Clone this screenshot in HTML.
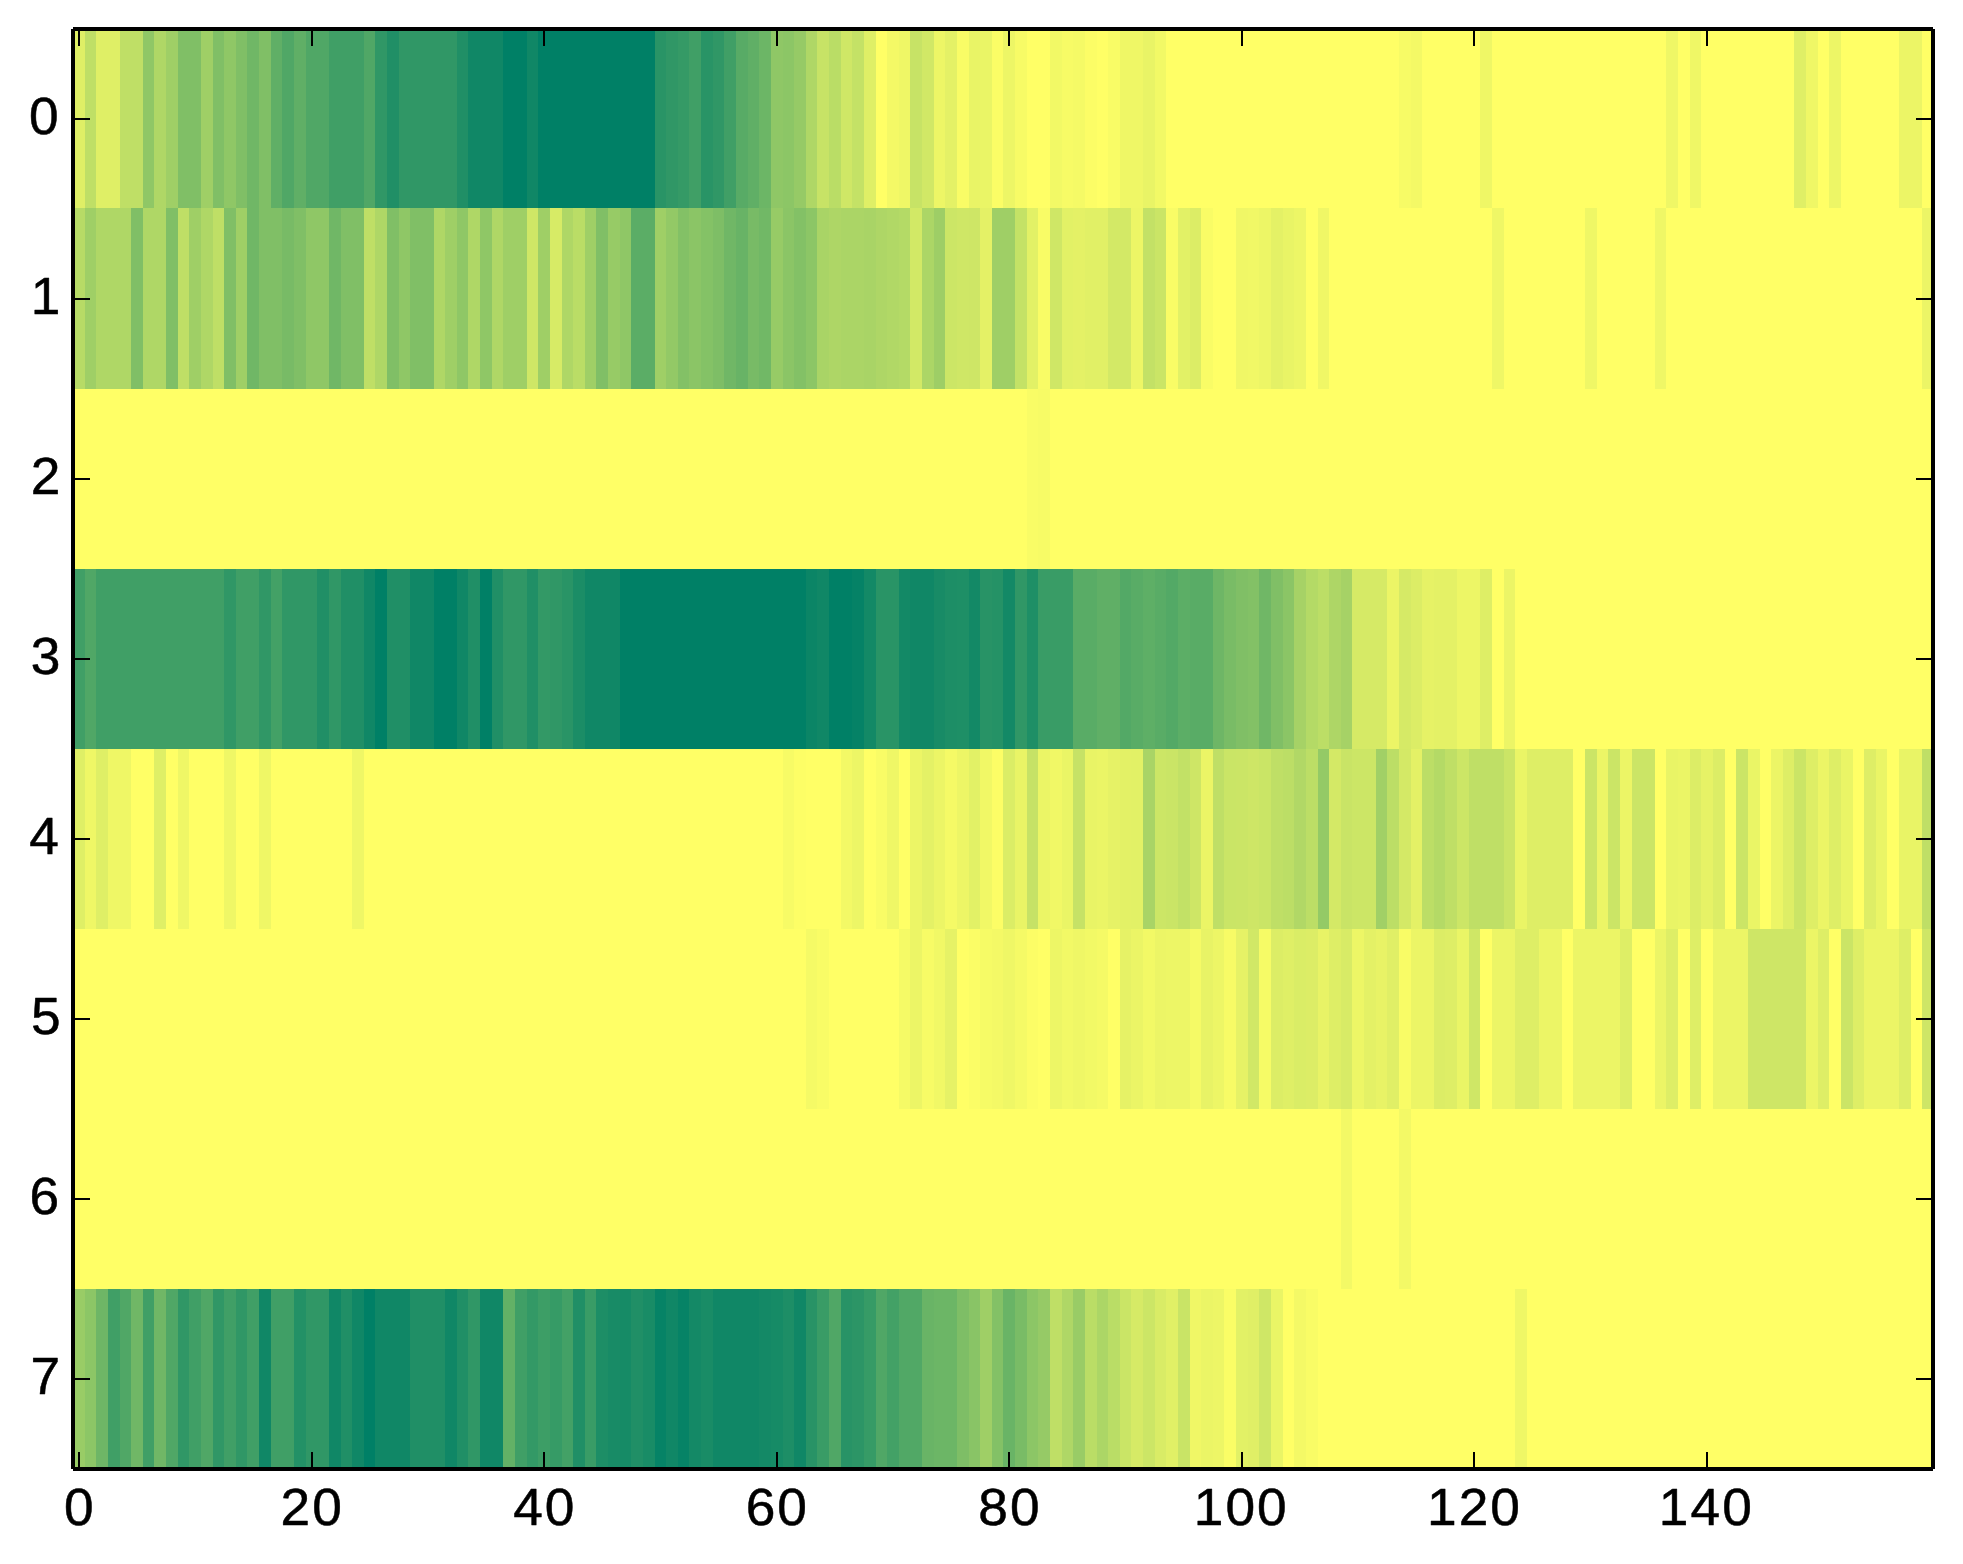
<!DOCTYPE html>
<html><head><meta charset="utf-8"><title>heatmap</title>
<style>
html,body{margin:0;padding:0;background:#fff;}
body{width:1963px;height:1564px;overflow:hidden;font-family:"Liberation Sans",sans-serif;}
svg{display:block;}
text{font-family:"Liberation Sans",sans-serif;fill:#000;stroke:#000;stroke-width:0.5px;stroke-linejoin:round;}
</style></head><body>
<svg width="1963" height="1564" viewBox="0 0 1963 1564">
<rect x="0" y="0" width="1963" height="1564" fill="#ffffff"/>
<g shape-rendering="crispEdges">
<rect x="73" y="29" width="1861" height="1440" fill="#ffff66"/>
<rect x="73" y="29" width="12" height="179" fill="#dfef66"/>
<rect x="85" y="29" width="11" height="179" fill="#bfdf66"/>
<rect x="96" y="29" width="24" height="179" fill="#dfef66"/>
<rect x="120" y="29" width="23" height="179" fill="#bfdf66"/>
<rect x="143" y="29" width="11" height="179" fill="#8fc766"/>
<rect x="154" y="29" width="12" height="179" fill="#afd766"/>
<rect x="166" y="29" width="12" height="179" fill="#9fcf66"/>
<rect x="178" y="29" width="23" height="179" fill="#80bf66"/>
<rect x="201" y="29" width="12" height="179" fill="#9fcf66"/>
<rect x="213" y="29" width="11" height="179" fill="#80bf66"/>
<rect x="224" y="29" width="12" height="179" fill="#8fc766"/>
<rect x="236" y="29" width="11" height="179" fill="#80bf66"/>
<rect x="247" y="29" width="12" height="179" fill="#70b766"/>
<rect x="259" y="29" width="12" height="179" fill="#80bf66"/>
<rect x="271" y="29" width="11" height="179" fill="#60af66"/>
<rect x="282" y="29" width="12" height="179" fill="#50a766"/>
<rect x="294" y="29" width="12" height="179" fill="#60af66"/>
<rect x="306" y="29" width="23" height="179" fill="#50a766"/>
<rect x="329" y="29" width="35" height="179" fill="#409f66"/>
<rect x="364" y="29" width="11" height="179" fill="#50a766"/>
<rect x="375" y="29" width="12" height="179" fill="#309766"/>
<rect x="387" y="29" width="12" height="179" fill="#208f66"/>
<rect x="399" y="29" width="58" height="179" fill="#309766"/>
<rect x="457" y="29" width="11" height="179" fill="#208f66"/>
<rect x="468" y="29" width="35" height="179" fill="#108766"/>
<rect x="503" y="29" width="24" height="179" fill="#008066"/>
<rect x="527" y="29" width="11" height="179" fill="#108766"/>
<rect x="538" y="29" width="117" height="179" fill="#008066"/>
<rect x="655" y="29" width="11" height="179" fill="#299466"/>
<rect x="666" y="29" width="12" height="179" fill="#309766"/>
<rect x="678" y="29" width="11" height="179" fill="#359a66"/>
<rect x="689" y="29" width="12" height="179" fill="#409f66"/>
<rect x="701" y="29" width="12" height="179" fill="#299466"/>
<rect x="713" y="29" width="11" height="179" fill="#309766"/>
<rect x="724" y="29" width="12" height="179" fill="#409f66"/>
<rect x="736" y="29" width="12" height="179" fill="#58ab66"/>
<rect x="748" y="29" width="11" height="179" fill="#60af66"/>
<rect x="759" y="29" width="12" height="179" fill="#6cb666"/>
<rect x="771" y="29" width="12" height="179" fill="#8fc766"/>
<rect x="783" y="29" width="11" height="179" fill="#8cc666"/>
<rect x="794" y="29" width="12" height="179" fill="#96ca66"/>
<rect x="806" y="29" width="11" height="179" fill="#afd766"/>
<rect x="817" y="29" width="12" height="179" fill="#c7e366"/>
<rect x="829" y="29" width="12" height="179" fill="#badd66"/>
<rect x="841" y="29" width="11" height="179" fill="#cfe766"/>
<rect x="852" y="29" width="12" height="179" fill="#c4e266"/>
<rect x="864" y="29" width="12" height="179" fill="#dfef66"/>
<rect x="887" y="29" width="12" height="179" fill="#f4f966"/>
<rect x="899" y="29" width="11" height="179" fill="#eff766"/>
<rect x="910" y="29" width="12" height="179" fill="#c7e366"/>
<rect x="922" y="29" width="12" height="179" fill="#d1e866"/>
<rect x="934" y="29" width="11" height="179" fill="#edf666"/>
<rect x="945" y="29" width="12" height="179" fill="#e4f166"/>
<rect x="957" y="29" width="12" height="179" fill="#f9fc66"/>
<rect x="969" y="29" width="11" height="179" fill="#e9f466"/>
<rect x="980" y="29" width="12" height="179" fill="#eaf566"/>
<rect x="992" y="29" width="11" height="179" fill="#fbfd66"/>
<rect x="1003" y="29" width="12" height="179" fill="#edf666"/>
<rect x="1015" y="29" width="12" height="179" fill="#f7fb66"/>
<rect x="1050" y="29" width="12" height="179" fill="#f2f966"/>
<rect x="1062" y="29" width="11" height="179" fill="#f7fb66"/>
<rect x="1073" y="29" width="12" height="179" fill="#f5fa66"/>
<rect x="1085" y="29" width="12" height="179" fill="#fcfd66"/>
<rect x="1108" y="29" width="12" height="179" fill="#f9fc66"/>
<rect x="1120" y="29" width="23" height="179" fill="#eff766"/>
<rect x="1143" y="29" width="12" height="179" fill="#e9f466"/>
<rect x="1155" y="29" width="11" height="179" fill="#f2f966"/>
<rect x="1399" y="29" width="12" height="179" fill="#f7fb66"/>
<rect x="1411" y="29" width="11" height="179" fill="#f4f966"/>
<rect x="1480" y="29" width="12" height="179" fill="#eff766"/>
<rect x="1666" y="29" width="12" height="179" fill="#eff766"/>
<rect x="1690" y="29" width="11" height="179" fill="#eff766"/>
<rect x="1794" y="29" width="12" height="179" fill="#dfef66"/>
<rect x="1806" y="29" width="12" height="179" fill="#eff766"/>
<rect x="1829" y="29" width="12" height="179" fill="#edf666"/>
<rect x="1899" y="29" width="23" height="179" fill="#ecf566"/>
<rect x="73" y="208" width="12" height="181" fill="#b7db66"/>
<rect x="85" y="208" width="11" height="181" fill="#9fcf66"/>
<rect x="96" y="208" width="35" height="181" fill="#afd766"/>
<rect x="131" y="208" width="12" height="181" fill="#80bf66"/>
<rect x="143" y="208" width="23" height="181" fill="#afd766"/>
<rect x="166" y="208" width="12" height="181" fill="#80bf66"/>
<rect x="178" y="208" width="11" height="181" fill="#bfdf66"/>
<rect x="189" y="208" width="12" height="181" fill="#9fcf66"/>
<rect x="201" y="208" width="12" height="181" fill="#afd766"/>
<rect x="213" y="208" width="11" height="181" fill="#bfdf66"/>
<rect x="224" y="208" width="12" height="181" fill="#80bf66"/>
<rect x="236" y="208" width="11" height="181" fill="#9fcf66"/>
<rect x="247" y="208" width="12" height="181" fill="#70b766"/>
<rect x="259" y="208" width="23" height="181" fill="#80bf66"/>
<rect x="282" y="208" width="12" height="181" fill="#78bb66"/>
<rect x="294" y="208" width="12" height="181" fill="#80bf66"/>
<rect x="306" y="208" width="23" height="181" fill="#8fc766"/>
<rect x="329" y="208" width="12" height="181" fill="#70b766"/>
<rect x="341" y="208" width="23" height="181" fill="#80bf66"/>
<rect x="364" y="208" width="11" height="181" fill="#bfdf66"/>
<rect x="375" y="208" width="12" height="181" fill="#afd766"/>
<rect x="387" y="208" width="12" height="181" fill="#80bf66"/>
<rect x="399" y="208" width="11" height="181" fill="#8fc766"/>
<rect x="410" y="208" width="24" height="181" fill="#80bf66"/>
<rect x="434" y="208" width="11" height="181" fill="#afd766"/>
<rect x="445" y="208" width="12" height="181" fill="#9fcf66"/>
<rect x="457" y="208" width="11" height="181" fill="#8fc766"/>
<rect x="468" y="208" width="12" height="181" fill="#afd766"/>
<rect x="480" y="208" width="12" height="181" fill="#8fc766"/>
<rect x="492" y="208" width="11" height="181" fill="#afd766"/>
<rect x="503" y="208" width="24" height="181" fill="#9fcf66"/>
<rect x="527" y="208" width="11" height="181" fill="#cfe766"/>
<rect x="538" y="208" width="12" height="181" fill="#9fcf66"/>
<rect x="550" y="208" width="12" height="181" fill="#d7eb66"/>
<rect x="562" y="208" width="11" height="181" fill="#afd766"/>
<rect x="573" y="208" width="12" height="181" fill="#badd66"/>
<rect x="585" y="208" width="11" height="181" fill="#9fcf66"/>
<rect x="596" y="208" width="12" height="181" fill="#80bf66"/>
<rect x="608" y="208" width="12" height="181" fill="#97cb66"/>
<rect x="620" y="208" width="11" height="181" fill="#8fc766"/>
<rect x="631" y="208" width="24" height="181" fill="#5bad66"/>
<rect x="655" y="208" width="11" height="181" fill="#9fcf66"/>
<rect x="666" y="208" width="12" height="181" fill="#93c966"/>
<rect x="678" y="208" width="11" height="181" fill="#83c166"/>
<rect x="689" y="208" width="12" height="181" fill="#8bc566"/>
<rect x="701" y="208" width="12" height="181" fill="#84c266"/>
<rect x="713" y="208" width="11" height="181" fill="#7ebe66"/>
<rect x="724" y="208" width="12" height="181" fill="#70b766"/>
<rect x="736" y="208" width="12" height="181" fill="#68b366"/>
<rect x="748" y="208" width="11" height="181" fill="#78bb66"/>
<rect x="759" y="208" width="12" height="181" fill="#71b866"/>
<rect x="771" y="208" width="12" height="181" fill="#97cb66"/>
<rect x="783" y="208" width="11" height="181" fill="#8bc566"/>
<rect x="794" y="208" width="12" height="181" fill="#83c166"/>
<rect x="806" y="208" width="11" height="181" fill="#8cc666"/>
<rect x="817" y="208" width="12" height="181" fill="#a9d466"/>
<rect x="829" y="208" width="12" height="181" fill="#aed666"/>
<rect x="841" y="208" width="23" height="181" fill="#abd566"/>
<rect x="864" y="208" width="12" height="181" fill="#a9d466"/>
<rect x="876" y="208" width="11" height="181" fill="#aed666"/>
<rect x="887" y="208" width="12" height="181" fill="#b1d866"/>
<rect x="899" y="208" width="11" height="181" fill="#b4da66"/>
<rect x="910" y="208" width="12" height="181" fill="#d2e966"/>
<rect x="922" y="208" width="12" height="181" fill="#acd666"/>
<rect x="934" y="208" width="11" height="181" fill="#9ece66"/>
<rect x="945" y="208" width="12" height="181" fill="#cce666"/>
<rect x="957" y="208" width="12" height="181" fill="#cfe766"/>
<rect x="969" y="208" width="11" height="181" fill="#cee666"/>
<rect x="980" y="208" width="12" height="181" fill="#e4f166"/>
<rect x="992" y="208" width="23" height="181" fill="#9fcf66"/>
<rect x="1015" y="208" width="12" height="181" fill="#c4e266"/>
<rect x="1027" y="208" width="11" height="181" fill="#e2f166"/>
<rect x="1038" y="208" width="12" height="181" fill="#f9fc66"/>
<rect x="1050" y="208" width="12" height="181" fill="#cfe766"/>
<rect x="1062" y="208" width="11" height="181" fill="#e2f166"/>
<rect x="1073" y="208" width="12" height="181" fill="#e4f166"/>
<rect x="1085" y="208" width="23" height="181" fill="#e1f066"/>
<rect x="1108" y="208" width="23" height="181" fill="#d3e966"/>
<rect x="1131" y="208" width="12" height="181" fill="#edf666"/>
<rect x="1143" y="208" width="12" height="181" fill="#c3e166"/>
<rect x="1155" y="208" width="11" height="181" fill="#cae566"/>
<rect x="1166" y="208" width="12" height="181" fill="#f9fc66"/>
<rect x="1178" y="208" width="12" height="181" fill="#e2f166"/>
<rect x="1190" y="208" width="11" height="181" fill="#dced66"/>
<rect x="1201" y="208" width="12" height="181" fill="#f9fc66"/>
<rect x="1236" y="208" width="12" height="181" fill="#f0f766"/>
<rect x="1248" y="208" width="11" height="181" fill="#f1f866"/>
<rect x="1259" y="208" width="12" height="181" fill="#edf666"/>
<rect x="1271" y="208" width="12" height="181" fill="#e4f166"/>
<rect x="1283" y="208" width="11" height="181" fill="#e9f466"/>
<rect x="1294" y="208" width="12" height="181" fill="#edf666"/>
<rect x="1318" y="208" width="11" height="181" fill="#f0f766"/>
<rect x="1492" y="208" width="12" height="181" fill="#eff766"/>
<rect x="1585" y="208" width="12" height="181" fill="#eff766"/>
<rect x="1655" y="208" width="11" height="181" fill="#eff766"/>
<rect x="1922" y="208" width="12" height="181" fill="#ecf566"/>
<rect x="1027" y="389" width="11" height="180" fill="#f9fc66"/>
<rect x="1038" y="389" width="12" height="180" fill="#f7fb66"/>
<rect x="73" y="569" width="12" height="180" fill="#409f66"/>
<rect x="85" y="569" width="11" height="180" fill="#50a766"/>
<rect x="96" y="569" width="128" height="180" fill="#409f66"/>
<rect x="224" y="569" width="12" height="180" fill="#309766"/>
<rect x="236" y="569" width="23" height="180" fill="#409f66"/>
<rect x="259" y="569" width="12" height="180" fill="#309766"/>
<rect x="271" y="569" width="11" height="180" fill="#43a166"/>
<rect x="282" y="569" width="35" height="180" fill="#309766"/>
<rect x="317" y="569" width="12" height="180" fill="#208f66"/>
<rect x="329" y="569" width="12" height="180" fill="#309766"/>
<rect x="341" y="569" width="23" height="180" fill="#208f66"/>
<rect x="364" y="569" width="11" height="180" fill="#108766"/>
<rect x="375" y="569" width="12" height="180" fill="#008066"/>
<rect x="387" y="569" width="23" height="180" fill="#208f66"/>
<rect x="410" y="569" width="24" height="180" fill="#108766"/>
<rect x="434" y="569" width="23" height="180" fill="#008066"/>
<rect x="457" y="569" width="11" height="180" fill="#108766"/>
<rect x="468" y="569" width="12" height="180" fill="#208f66"/>
<rect x="480" y="569" width="12" height="180" fill="#008066"/>
<rect x="492" y="569" width="11" height="180" fill="#208f66"/>
<rect x="503" y="569" width="24" height="180" fill="#309766"/>
<rect x="527" y="569" width="11" height="180" fill="#208f66"/>
<rect x="538" y="569" width="12" height="180" fill="#339966"/>
<rect x="550" y="569" width="12" height="180" fill="#309766"/>
<rect x="562" y="569" width="11" height="180" fill="#299466"/>
<rect x="573" y="569" width="12" height="180" fill="#1b8d66"/>
<rect x="585" y="569" width="35" height="180" fill="#108766"/>
<rect x="620" y="569" width="186" height="180" fill="#008066"/>
<rect x="806" y="569" width="11" height="180" fill="#0b8566"/>
<rect x="817" y="569" width="12" height="180" fill="#108766"/>
<rect x="829" y="569" width="23" height="180" fill="#008066"/>
<rect x="852" y="569" width="12" height="180" fill="#058266"/>
<rect x="864" y="569" width="12" height="180" fill="#138966"/>
<rect x="876" y="569" width="23" height="180" fill="#299466"/>
<rect x="899" y="569" width="11" height="180" fill="#138966"/>
<rect x="910" y="569" width="24" height="180" fill="#108766"/>
<rect x="934" y="569" width="11" height="180" fill="#188b66"/>
<rect x="945" y="569" width="12" height="180" fill="#1d8e66"/>
<rect x="957" y="569" width="12" height="180" fill="#1e8f66"/>
<rect x="969" y="569" width="11" height="180" fill="#138966"/>
<rect x="980" y="569" width="12" height="180" fill="#289366"/>
<rect x="992" y="569" width="11" height="180" fill="#259266"/>
<rect x="1003" y="569" width="12" height="180" fill="#138966"/>
<rect x="1015" y="569" width="12" height="180" fill="#309766"/>
<rect x="1027" y="569" width="11" height="180" fill="#1e8f66"/>
<rect x="1038" y="569" width="35" height="180" fill="#399c66"/>
<rect x="1073" y="569" width="24" height="180" fill="#59ac66"/>
<rect x="1097" y="569" width="23" height="180" fill="#60af66"/>
<rect x="1120" y="569" width="11" height="180" fill="#53a966"/>
<rect x="1131" y="569" width="12" height="180" fill="#59ac66"/>
<rect x="1143" y="569" width="12" height="180" fill="#5eaf66"/>
<rect x="1155" y="569" width="11" height="180" fill="#59ac66"/>
<rect x="1166" y="569" width="12" height="180" fill="#53a966"/>
<rect x="1178" y="569" width="12" height="180" fill="#5cae66"/>
<rect x="1190" y="569" width="23" height="180" fill="#59ac66"/>
<rect x="1213" y="569" width="11" height="180" fill="#6eb666"/>
<rect x="1224" y="569" width="12" height="180" fill="#79bc66"/>
<rect x="1236" y="569" width="12" height="180" fill="#80bf66"/>
<rect x="1248" y="569" width="11" height="180" fill="#83c166"/>
<rect x="1259" y="569" width="12" height="180" fill="#70b766"/>
<rect x="1271" y="569" width="12" height="180" fill="#80bf66"/>
<rect x="1283" y="569" width="11" height="180" fill="#8bc566"/>
<rect x="1294" y="569" width="12" height="180" fill="#a6d266"/>
<rect x="1306" y="569" width="12" height="180" fill="#b4da66"/>
<rect x="1318" y="569" width="11" height="180" fill="#bcde66"/>
<rect x="1329" y="569" width="12" height="180" fill="#aed666"/>
<rect x="1341" y="569" width="11" height="180" fill="#a6d266"/>
<rect x="1352" y="569" width="35" height="180" fill="#d6ea66"/>
<rect x="1387" y="569" width="12" height="180" fill="#ecf566"/>
<rect x="1399" y="569" width="12" height="180" fill="#d6ea66"/>
<rect x="1411" y="569" width="11" height="180" fill="#dced66"/>
<rect x="1422" y="569" width="12" height="180" fill="#e6f266"/>
<rect x="1434" y="569" width="23" height="180" fill="#e4f166"/>
<rect x="1457" y="569" width="23" height="180" fill="#edf666"/>
<rect x="1480" y="569" width="12" height="180" fill="#deee66"/>
<rect x="1504" y="569" width="11" height="180" fill="#ecf566"/>
<rect x="73" y="749" width="12" height="180" fill="#dfef66"/>
<rect x="85" y="749" width="11" height="180" fill="#eff766"/>
<rect x="96" y="749" width="12" height="180" fill="#dfef66"/>
<rect x="108" y="749" width="23" height="180" fill="#eff766"/>
<rect x="154" y="749" width="12" height="180" fill="#dfef66"/>
<rect x="178" y="749" width="11" height="180" fill="#eff766"/>
<rect x="224" y="749" width="12" height="180" fill="#eff766"/>
<rect x="259" y="749" width="12" height="180" fill="#eff766"/>
<rect x="352" y="749" width="12" height="180" fill="#eff766"/>
<rect x="783" y="749" width="11" height="180" fill="#f7fb66"/>
<rect x="794" y="749" width="12" height="180" fill="#fdfe66"/>
<rect x="841" y="749" width="11" height="180" fill="#f3f966"/>
<rect x="852" y="749" width="12" height="180" fill="#edf666"/>
<rect x="876" y="749" width="11" height="180" fill="#f9fc66"/>
<rect x="887" y="749" width="12" height="180" fill="#eff766"/>
<rect x="910" y="749" width="12" height="180" fill="#ecf566"/>
<rect x="922" y="749" width="12" height="180" fill="#e4f166"/>
<rect x="934" y="749" width="11" height="180" fill="#ecf566"/>
<rect x="945" y="749" width="12" height="180" fill="#f5fa66"/>
<rect x="957" y="749" width="12" height="180" fill="#edf666"/>
<rect x="969" y="749" width="11" height="180" fill="#e2f166"/>
<rect x="980" y="749" width="12" height="180" fill="#f1f866"/>
<rect x="992" y="749" width="11" height="180" fill="#fcfd66"/>
<rect x="1003" y="749" width="12" height="180" fill="#dbed66"/>
<rect x="1015" y="749" width="12" height="180" fill="#e9f466"/>
<rect x="1027" y="749" width="11" height="180" fill="#c6e266"/>
<rect x="1038" y="749" width="12" height="180" fill="#ebf566"/>
<rect x="1050" y="749" width="12" height="180" fill="#f1f866"/>
<rect x="1062" y="749" width="11" height="180" fill="#eaf566"/>
<rect x="1073" y="749" width="12" height="180" fill="#c6e266"/>
<rect x="1085" y="749" width="12" height="180" fill="#e9f466"/>
<rect x="1097" y="749" width="11" height="180" fill="#ebf566"/>
<rect x="1108" y="749" width="12" height="180" fill="#e6f266"/>
<rect x="1120" y="749" width="11" height="180" fill="#e3f166"/>
<rect x="1131" y="749" width="12" height="180" fill="#e2f166"/>
<rect x="1143" y="749" width="12" height="180" fill="#a9d466"/>
<rect x="1155" y="749" width="11" height="180" fill="#cce666"/>
<rect x="1166" y="749" width="12" height="180" fill="#cae566"/>
<rect x="1178" y="749" width="12" height="180" fill="#c2e166"/>
<rect x="1190" y="749" width="11" height="180" fill="#cee666"/>
<rect x="1201" y="749" width="12" height="180" fill="#ebf566"/>
<rect x="1213" y="749" width="11" height="180" fill="#bfdf66"/>
<rect x="1224" y="749" width="12" height="180" fill="#cae566"/>
<rect x="1236" y="749" width="12" height="180" fill="#cbe566"/>
<rect x="1248" y="749" width="11" height="180" fill="#cee666"/>
<rect x="1259" y="749" width="12" height="180" fill="#cae566"/>
<rect x="1271" y="749" width="12" height="180" fill="#bfdf66"/>
<rect x="1283" y="749" width="11" height="180" fill="#bcde66"/>
<rect x="1294" y="749" width="12" height="180" fill="#b1d866"/>
<rect x="1306" y="749" width="12" height="180" fill="#bcde66"/>
<rect x="1318" y="749" width="11" height="180" fill="#94ca66"/>
<rect x="1329" y="749" width="12" height="180" fill="#d4e966"/>
<rect x="1341" y="749" width="11" height="180" fill="#c9e466"/>
<rect x="1352" y="749" width="24" height="180" fill="#cce666"/>
<rect x="1376" y="749" width="11" height="180" fill="#a1d066"/>
<rect x="1387" y="749" width="12" height="180" fill="#bcde66"/>
<rect x="1399" y="749" width="12" height="180" fill="#d4e966"/>
<rect x="1411" y="749" width="11" height="180" fill="#e4f166"/>
<rect x="1422" y="749" width="12" height="180" fill="#bcde66"/>
<rect x="1434" y="749" width="11" height="180" fill="#b4da66"/>
<rect x="1445" y="749" width="12" height="180" fill="#bfdf66"/>
<rect x="1457" y="749" width="12" height="180" fill="#cce666"/>
<rect x="1469" y="749" width="35" height="180" fill="#bfdf66"/>
<rect x="1504" y="749" width="11" height="180" fill="#cbe566"/>
<rect x="1515" y="749" width="12" height="180" fill="#eaf566"/>
<rect x="1527" y="749" width="46" height="180" fill="#deee66"/>
<rect x="1585" y="749" width="12" height="180" fill="#cbe566"/>
<rect x="1597" y="749" width="11" height="180" fill="#ecf566"/>
<rect x="1608" y="749" width="12" height="180" fill="#cbe566"/>
<rect x="1620" y="749" width="12" height="180" fill="#ecf566"/>
<rect x="1632" y="749" width="23" height="180" fill="#cbe566"/>
<rect x="1666" y="749" width="12" height="180" fill="#e9f466"/>
<rect x="1678" y="749" width="12" height="180" fill="#ebf566"/>
<rect x="1690" y="749" width="11" height="180" fill="#dced66"/>
<rect x="1701" y="749" width="12" height="180" fill="#e6f266"/>
<rect x="1713" y="749" width="12" height="180" fill="#dced66"/>
<rect x="1736" y="749" width="12" height="180" fill="#cbe566"/>
<rect x="1748" y="749" width="12" height="180" fill="#eaf566"/>
<rect x="1771" y="749" width="12" height="180" fill="#ecf566"/>
<rect x="1783" y="749" width="11" height="180" fill="#deee66"/>
<rect x="1794" y="749" width="12" height="180" fill="#cbe566"/>
<rect x="1806" y="749" width="12" height="180" fill="#deee66"/>
<rect x="1818" y="749" width="11" height="180" fill="#ecf566"/>
<rect x="1829" y="749" width="12" height="180" fill="#deee66"/>
<rect x="1841" y="749" width="12" height="180" fill="#eaf566"/>
<rect x="1864" y="749" width="12" height="180" fill="#deee66"/>
<rect x="1876" y="749" width="11" height="180" fill="#eaf566"/>
<rect x="1899" y="749" width="23" height="180" fill="#e9f466"/>
<rect x="1922" y="749" width="12" height="180" fill="#bfdf66"/>
<rect x="806" y="929" width="11" height="180" fill="#f5fa66"/>
<rect x="817" y="929" width="12" height="180" fill="#f9fc66"/>
<rect x="899" y="929" width="11" height="180" fill="#f5fa66"/>
<rect x="910" y="929" width="12" height="180" fill="#ecf566"/>
<rect x="922" y="929" width="12" height="180" fill="#f7fb66"/>
<rect x="934" y="929" width="11" height="180" fill="#f1f866"/>
<rect x="945" y="929" width="12" height="180" fill="#e6f266"/>
<rect x="969" y="929" width="11" height="180" fill="#fbfd66"/>
<rect x="980" y="929" width="12" height="180" fill="#f6fb66"/>
<rect x="992" y="929" width="11" height="180" fill="#f4f966"/>
<rect x="1003" y="929" width="12" height="180" fill="#eff766"/>
<rect x="1015" y="929" width="12" height="180" fill="#f5fa66"/>
<rect x="1027" y="929" width="11" height="180" fill="#fcfd66"/>
<rect x="1050" y="929" width="12" height="180" fill="#edf666"/>
<rect x="1062" y="929" width="11" height="180" fill="#f2f966"/>
<rect x="1073" y="929" width="12" height="180" fill="#eff766"/>
<rect x="1085" y="929" width="12" height="180" fill="#f2f966"/>
<rect x="1097" y="929" width="11" height="180" fill="#f5fa66"/>
<rect x="1120" y="929" width="11" height="180" fill="#e6f266"/>
<rect x="1131" y="929" width="12" height="180" fill="#ebf566"/>
<rect x="1143" y="929" width="12" height="180" fill="#f2f966"/>
<rect x="1155" y="929" width="11" height="180" fill="#ecf566"/>
<rect x="1166" y="929" width="24" height="180" fill="#edf666"/>
<rect x="1190" y="929" width="11" height="180" fill="#f5fa66"/>
<rect x="1201" y="929" width="12" height="180" fill="#e8f366"/>
<rect x="1213" y="929" width="11" height="180" fill="#edf666"/>
<rect x="1224" y="929" width="12" height="180" fill="#f7fb66"/>
<rect x="1236" y="929" width="12" height="180" fill="#e6f266"/>
<rect x="1248" y="929" width="11" height="180" fill="#d1e866"/>
<rect x="1259" y="929" width="12" height="180" fill="#f6fb66"/>
<rect x="1271" y="929" width="12" height="180" fill="#dced66"/>
<rect x="1283" y="929" width="11" height="180" fill="#dfef66"/>
<rect x="1294" y="929" width="12" height="180" fill="#daed66"/>
<rect x="1306" y="929" width="12" height="180" fill="#dced66"/>
<rect x="1318" y="929" width="11" height="180" fill="#e8f366"/>
<rect x="1329" y="929" width="12" height="180" fill="#deee66"/>
<rect x="1341" y="929" width="11" height="180" fill="#d8eb66"/>
<rect x="1352" y="929" width="12" height="180" fill="#edf666"/>
<rect x="1364" y="929" width="12" height="180" fill="#e4f166"/>
<rect x="1376" y="929" width="11" height="180" fill="#e8f366"/>
<rect x="1387" y="929" width="12" height="180" fill="#e0ef66"/>
<rect x="1399" y="929" width="12" height="180" fill="#f9fc66"/>
<rect x="1411" y="929" width="23" height="180" fill="#ecf566"/>
<rect x="1434" y="929" width="11" height="180" fill="#dced66"/>
<rect x="1445" y="929" width="12" height="180" fill="#deee66"/>
<rect x="1457" y="929" width="12" height="180" fill="#eaf566"/>
<rect x="1469" y="929" width="11" height="180" fill="#cfe766"/>
<rect x="1492" y="929" width="23" height="180" fill="#ecf566"/>
<rect x="1515" y="929" width="24" height="180" fill="#deee66"/>
<rect x="1539" y="929" width="23" height="180" fill="#ecf566"/>
<rect x="1573" y="929" width="47" height="180" fill="#ecf566"/>
<rect x="1620" y="929" width="12" height="180" fill="#deee66"/>
<rect x="1655" y="929" width="11" height="180" fill="#ecf566"/>
<rect x="1666" y="929" width="12" height="180" fill="#deee66"/>
<rect x="1690" y="929" width="11" height="180" fill="#deee66"/>
<rect x="1713" y="929" width="35" height="180" fill="#ecf566"/>
<rect x="1748" y="929" width="58" height="180" fill="#cee666"/>
<rect x="1806" y="929" width="12" height="180" fill="#ecf566"/>
<rect x="1818" y="929" width="11" height="180" fill="#deee66"/>
<rect x="1841" y="929" width="12" height="180" fill="#cbe566"/>
<rect x="1853" y="929" width="11" height="180" fill="#deee66"/>
<rect x="1864" y="929" width="35" height="180" fill="#ecf566"/>
<rect x="1899" y="929" width="12" height="180" fill="#deee66"/>
<rect x="1922" y="929" width="12" height="180" fill="#cee666"/>
<rect x="1341" y="1109" width="11" height="180" fill="#f3f966"/>
<rect x="1399" y="1109" width="12" height="180" fill="#f3f966"/>
<rect x="73" y="1289" width="12" height="180" fill="#99cc66"/>
<rect x="85" y="1289" width="11" height="180" fill="#8cc666"/>
<rect x="96" y="1289" width="12" height="180" fill="#6eb666"/>
<rect x="108" y="1289" width="12" height="180" fill="#409f66"/>
<rect x="120" y="1289" width="11" height="180" fill="#50a766"/>
<rect x="131" y="1289" width="12" height="180" fill="#70b766"/>
<rect x="143" y="1289" width="11" height="180" fill="#409f66"/>
<rect x="154" y="1289" width="12" height="180" fill="#70b766"/>
<rect x="166" y="1289" width="12" height="180" fill="#50a766"/>
<rect x="178" y="1289" width="11" height="180" fill="#309766"/>
<rect x="189" y="1289" width="12" height="180" fill="#409f66"/>
<rect x="201" y="1289" width="12" height="180" fill="#50a766"/>
<rect x="213" y="1289" width="11" height="180" fill="#309766"/>
<rect x="224" y="1289" width="12" height="180" fill="#409f66"/>
<rect x="236" y="1289" width="11" height="180" fill="#309766"/>
<rect x="247" y="1289" width="12" height="180" fill="#409f66"/>
<rect x="259" y="1289" width="12" height="180" fill="#108766"/>
<rect x="271" y="1289" width="23" height="180" fill="#409f66"/>
<rect x="294" y="1289" width="12" height="180" fill="#239166"/>
<rect x="306" y="1289" width="23" height="180" fill="#309766"/>
<rect x="329" y="1289" width="12" height="180" fill="#108766"/>
<rect x="341" y="1289" width="11" height="180" fill="#208f66"/>
<rect x="352" y="1289" width="12" height="180" fill="#108766"/>
<rect x="364" y="1289" width="11" height="180" fill="#008066"/>
<rect x="375" y="1289" width="35" height="180" fill="#108766"/>
<rect x="410" y="1289" width="35" height="180" fill="#208f66"/>
<rect x="445" y="1289" width="12" height="180" fill="#108766"/>
<rect x="457" y="1289" width="11" height="180" fill="#208f66"/>
<rect x="468" y="1289" width="12" height="180" fill="#309766"/>
<rect x="480" y="1289" width="23" height="180" fill="#108766"/>
<rect x="503" y="1289" width="12" height="180" fill="#63b166"/>
<rect x="515" y="1289" width="12" height="180" fill="#409f66"/>
<rect x="527" y="1289" width="11" height="180" fill="#339966"/>
<rect x="538" y="1289" width="12" height="180" fill="#3d9e66"/>
<rect x="550" y="1289" width="12" height="180" fill="#369b66"/>
<rect x="562" y="1289" width="11" height="180" fill="#43a166"/>
<rect x="573" y="1289" width="12" height="180" fill="#208f66"/>
<rect x="585" y="1289" width="11" height="180" fill="#399c66"/>
<rect x="596" y="1289" width="12" height="180" fill="#1d8e66"/>
<rect x="608" y="1289" width="12" height="180" fill="#188b66"/>
<rect x="620" y="1289" width="11" height="180" fill="#168b66"/>
<rect x="631" y="1289" width="12" height="180" fill="#208f66"/>
<rect x="643" y="1289" width="12" height="180" fill="#198c66"/>
<rect x="655" y="1289" width="11" height="180" fill="#068366"/>
<rect x="666" y="1289" width="12" height="180" fill="#108766"/>
<rect x="678" y="1289" width="11" height="180" fill="#068366"/>
<rect x="689" y="1289" width="12" height="180" fill="#148966"/>
<rect x="701" y="1289" width="12" height="180" fill="#198c66"/>
<rect x="713" y="1289" width="46" height="180" fill="#108766"/>
<rect x="759" y="1289" width="12" height="180" fill="#148966"/>
<rect x="771" y="1289" width="12" height="180" fill="#168b66"/>
<rect x="783" y="1289" width="11" height="180" fill="#1d8e66"/>
<rect x="794" y="1289" width="12" height="180" fill="#108766"/>
<rect x="806" y="1289" width="11" height="180" fill="#289366"/>
<rect x="817" y="1289" width="12" height="180" fill="#399c66"/>
<rect x="829" y="1289" width="12" height="180" fill="#50a766"/>
<rect x="841" y="1289" width="11" height="180" fill="#289366"/>
<rect x="852" y="1289" width="12" height="180" fill="#2c9566"/>
<rect x="864" y="1289" width="12" height="180" fill="#369b66"/>
<rect x="876" y="1289" width="11" height="180" fill="#50a766"/>
<rect x="887" y="1289" width="12" height="180" fill="#43a166"/>
<rect x="899" y="1289" width="23" height="180" fill="#51a866"/>
<rect x="922" y="1289" width="12" height="180" fill="#69b466"/>
<rect x="934" y="1289" width="23" height="180" fill="#6cb666"/>
<rect x="957" y="1289" width="12" height="180" fill="#7ebe66"/>
<rect x="969" y="1289" width="11" height="180" fill="#89c466"/>
<rect x="980" y="1289" width="12" height="180" fill="#9fcf66"/>
<rect x="992" y="1289" width="11" height="180" fill="#83c166"/>
<rect x="1003" y="1289" width="12" height="180" fill="#69b466"/>
<rect x="1015" y="1289" width="12" height="180" fill="#79bc66"/>
<rect x="1027" y="1289" width="11" height="180" fill="#8cc666"/>
<rect x="1038" y="1289" width="12" height="180" fill="#96ca66"/>
<rect x="1050" y="1289" width="12" height="180" fill="#bfdf66"/>
<rect x="1062" y="1289" width="11" height="180" fill="#afd766"/>
<rect x="1073" y="1289" width="12" height="180" fill="#99cc66"/>
<rect x="1085" y="1289" width="12" height="180" fill="#badd66"/>
<rect x="1097" y="1289" width="11" height="180" fill="#acd666"/>
<rect x="1108" y="1289" width="12" height="180" fill="#badd66"/>
<rect x="1120" y="1289" width="11" height="180" fill="#cae566"/>
<rect x="1131" y="1289" width="12" height="180" fill="#d6ea66"/>
<rect x="1143" y="1289" width="12" height="180" fill="#cce666"/>
<rect x="1155" y="1289" width="11" height="180" fill="#d9ec66"/>
<rect x="1166" y="1289" width="12" height="180" fill="#e1f066"/>
<rect x="1178" y="1289" width="12" height="180" fill="#c9e466"/>
<rect x="1190" y="1289" width="11" height="180" fill="#f0f766"/>
<rect x="1201" y="1289" width="12" height="180" fill="#ebf566"/>
<rect x="1213" y="1289" width="11" height="180" fill="#edf666"/>
<rect x="1224" y="1289" width="12" height="180" fill="#fafd66"/>
<rect x="1236" y="1289" width="12" height="180" fill="#e2f166"/>
<rect x="1248" y="1289" width="11" height="180" fill="#e0ef66"/>
<rect x="1259" y="1289" width="12" height="180" fill="#cfe766"/>
<rect x="1271" y="1289" width="12" height="180" fill="#eaf566"/>
<rect x="1294" y="1289" width="12" height="180" fill="#f4f966"/>
<rect x="1306" y="1289" width="12" height="180" fill="#f9fc66"/>
<rect x="1515" y="1289" width="12" height="180" fill="#eff766"/>
</g>
<g stroke="#000" stroke-width="2.00" fill="none">
<path d="M79.00 1469.00V1452.00 M79.00 29.00V46.00"/>
<path d="M312.00 1469.00V1452.00 M312.00 29.00V46.00"/>
<path d="M544.00 1469.00V1452.00 M544.00 29.00V46.00"/>
<path d="M777.00 1469.00V1452.00 M777.00 29.00V46.00"/>
<path d="M1009.00 1469.00V1452.00 M1009.00 29.00V46.00"/>
<path d="M1242.00 1469.00V1452.00 M1242.00 29.00V46.00"/>
<path d="M1474.00 1469.00V1452.00 M1474.00 29.00V46.00"/>
<path d="M1707.00 1469.00V1452.00 M1707.00 29.00V46.00"/>
<path d="M73.00 119.00H90.00 M1933.00 119.00H1916.00"/>
<path d="M73.00 299.00H90.00 M1933.00 299.00H1916.00"/>
<path d="M73.00 479.00H90.00 M1933.00 479.00H1916.00"/>
<path d="M73.00 659.00H90.00 M1933.00 659.00H1916.00"/>
<path d="M73.00 839.00H90.00 M1933.00 839.00H1916.00"/>
<path d="M73.00 1019.00H90.00 M1933.00 1019.00H1916.00"/>
<path d="M73.00 1199.00H90.00 M1933.00 1199.00H1916.00"/>
<path d="M73.00 1379.00H90.00 M1933.00 1379.00H1916.00"/>
</g>
<path d="M73.00 29.00V1469.00 M1933.00 29.00V1469.00 M73.00 29.00H1933.00 M73.00 1469.00H1933.00" fill="none" stroke="#000" stroke-width="4.00" stroke-linecap="butt"/>
<text transform="translate(78.71 1525.10) scale(1.0400 1)" font-size="51.20" text-anchor="middle">0</text>
<text transform="translate(312.29 1525.10) scale(1.0400 1)" font-size="51.20" text-anchor="middle" letter-spacing="2.00">20</text>
<text transform="translate(544.83 1525.10) scale(1.0400 1)" font-size="51.20" text-anchor="middle" letter-spacing="2.00">40</text>
<text transform="translate(777.37 1525.10) scale(1.0400 1)" font-size="51.20" text-anchor="middle" letter-spacing="2.00">60</text>
<text transform="translate(1009.91 1525.10) scale(1.0400 1)" font-size="51.20" text-anchor="middle" letter-spacing="2.00">80</text>
<text transform="translate(1241.25 1525.10) scale(1.0400 1)" font-size="51.20" text-anchor="middle" letter-spacing="2.00">100</text>
<text transform="translate(1474.49 1525.10) scale(1.0400 1)" font-size="51.20" text-anchor="middle" letter-spacing="2.00">120</text>
<text transform="translate(1706.33 1525.10) scale(1.0400 1)" font-size="51.20" text-anchor="middle" letter-spacing="2.00">140</text>
<text transform="translate(43.75 134.00) scale(1.0400 1)" font-size="51.20" text-anchor="middle">0</text>
<text transform="translate(45.60 314.00) scale(1.0400 1)" font-size="51.20" text-anchor="middle">1</text>
<text transform="translate(45.60 494.00) scale(1.0400 1)" font-size="51.20" text-anchor="middle">2</text>
<text transform="translate(45.65 674.00) scale(1.0400 1)" font-size="51.20" text-anchor="middle">3</text>
<text transform="translate(44.10 854.00) scale(1.0400 1)" font-size="51.20" text-anchor="middle">4</text>
<text transform="translate(45.75 1034.00) scale(1.0400 1)" font-size="51.20" text-anchor="middle">5</text>
<text transform="translate(44.25 1214.00) scale(1.0400 1)" font-size="51.20" text-anchor="middle">6</text>
<text transform="translate(45.35 1394.00) scale(1.0400 1)" font-size="51.20" text-anchor="middle">7</text>
</svg>
</body></html>
